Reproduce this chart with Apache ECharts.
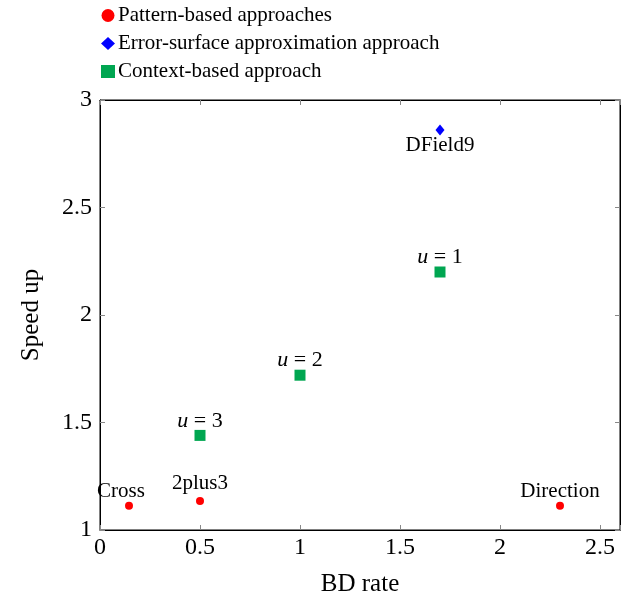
<!DOCTYPE html>
<html>
<head>
<meta charset="utf-8">
<script src="https://cdn.jsdelivr.net/npm/echarts@6/dist/echarts.min.js"></script>
<style>
  html, body { margin: 0; padding: 0; background: #fff; }
  #main { width: 631px; height: 599px; }
</style>
</head>
<body>
<div id="main"></div>
<script>
const chartDom = document.getElementById('main')
const myChart = echarts.init(chartDom)

const serif = '"Liberation Serif", "DejaVu Serif", serif'

// Pattern-based approaches
const patternNames = ['Cross', '2plus3', 'Direction']
const patternX = [0.145, 0.5, 2.3]
const patternY = [1.113, 1.135, 1.113]

// Error-surface approximation approach
const errorNames = ['DField9']
const errorX = [1.7]
const errorY = [2.86]

// Context-based approach
const contextNames = ['1', '2', '3']
const contextX = [1.7, 1.0, 0.5]
const contextY = [2.2, 1.72, 1.44]

const xTicks = [0, 0.5, 1, 1.5, 2, 2.5]
const yTicks = [1, 1.5, 2, 2.5, 3]

const zip = (xs, ys, names) => xs.map((x, i) => ({ name: names[i], value: [x, ys[i]] }))

const tick = { show: true, inside: true, length: 5, lineStyle: { color: '#888' } }
const line = { show: true, onZero: false, lineStyle: { color: '#000', width: 1 } }
const tickLabel = { fontFamily: serif, fontSize: 24, color: '#000' }

const xBase = { type: 'value', min: 0, max: 2.6, interval: 0.5, axisLine: line, axisTick: tick, splitLine: { show: false } }
const yBase = { type: 'value', min: 1, max: 3, interval: 0.5, axisLine: line, axisTick: tick, splitLine: { show: false } }

const labelStyle = { fontFamily: serif, fontSize: 21, color: '#000', lineHeight: 20 }

// small per-label nudges (text without descenders sits closer to the mark)
const labelOffsets = { 'Cross': [-8, 3], 'Direction': [0, 3] }

const option = {
    backgroundColor: '#fff',
    animation: false,
    legend: {
        orient: 'vertical',
        left: 96,
        top: 0,
        itemGap: 7,
        itemWidth: 14,
        itemHeight: 13,
        textStyle: { fontFamily: serif, fontSize: 21, color: '#000', padding: [0, 0, 0, -2] },
        data: [
            { name: 'Pattern-based approaches', icon: 'circle' },
            { name: 'Error-surface approximation approach', icon: 'diamond' },
            { name: 'Context-based approach', icon: 'rect' }
        ]
    },
    grid: {
        left: 100, right: 11, top: 100, bottom: 69,
        outerBoundsMode: 'none',
        show: true, borderColor: '#000', borderWidth: 1
    },
    xAxis: [
        Object.assign({}, xBase, {
            position: 'bottom',
            name: 'BD rate',
            nameLocation: 'middle',
            nameGap: 42,
            nameTextStyle: { fontFamily: serif, fontSize: 25, color: '#000' },
            axisLabel: Object.assign({}, tickLabel, {
                margin: 6,
                formatter: v => xTicks.includes(v) ? String(v) : ''
            })
        }),
        Object.assign({}, xBase, { position: 'top', axisLabel: { show: false } })
    ],
    yAxis: [
        Object.assign({}, yBase, {
            position: 'left',
            name: 'Speed up',
            nameLocation: 'middle',
            nameGap: 56,
            nameTextStyle: { fontFamily: serif, fontSize: 25, color: '#000' },
            axisLabel: Object.assign({}, tickLabel, {
                margin: 8,
                formatter: v => yTicks.includes(v) ? String(v) : ''
            })
        }),
        Object.assign({}, yBase, { position: 'right', axisLabel: { show: false } })
    ],
    series: [
        {
            name: 'Pattern-based approaches',
            type: 'scatter',
            symbol: 'circle',
            symbolSize: 8,
            itemStyle: { color: '#ff0000', opacity: 1 },
            data: zip(patternX, patternY, patternNames).map(d =>
                labelOffsets[d.name] ? Object.assign(d, { label: { offset: labelOffsets[d.name] } }) : d),
            label: Object.assign({ show: true, position: 'top', distance: 3, formatter: '{b}' }, labelStyle)
        },
        {
            name: 'Error-surface approximation approach',
            type: 'scatter',
            symbol: 'diamond',
            symbolSize: [9, 11],
            itemStyle: { color: '#0000ff', opacity: 1 },
            data: zip(errorX, errorY, errorNames),
            label: Object.assign({ show: true, position: 'bottom', distance: 0, formatter: '{b}' }, labelStyle)
        },
        {
            name: 'Context-based approach',
            type: 'scatter',
            symbol: 'rect',
            symbolSize: 11,
            itemStyle: { color: '#00a651', opacity: 1 },
            data: zip(contextX, contextY, contextNames),
            label: {
                show: true,
                position: 'top',
                distance: 0,
                formatter: p => '{i|u} = ' + p.name,
                fontFamily: serif,
                fontSize: 22,
                lineHeight: 18,
                color: '#000',
                rich: {
                    i: { fontFamily: serif, fontStyle: 'italic', fontSize: 22, lineHeight: 18, color: '#000' }
                }
            }
        }
    ]
}

myChart.setOption(option)
</script>
</body>
</html>
